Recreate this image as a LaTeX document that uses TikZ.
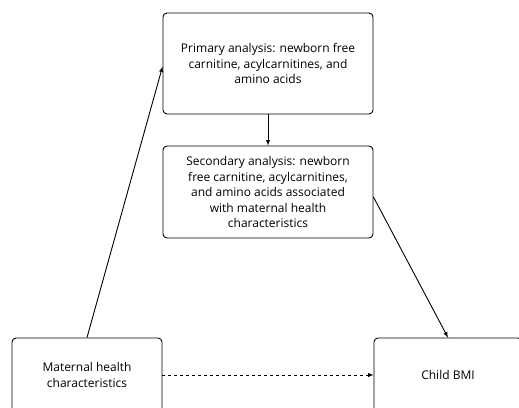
\documentclass[tikz,border=0pt]{standalone}
\usepackage{fontspec}
\setmainfont{Open Sans}
\usetikzlibrary{arrows, calc}

\begin{document}
\begin{tikzpicture}[x=1pt, y=-1pt,
  every node/.style = {shape=rectangle, rounded corners=4pt, draw, line width=0.9pt, align=center,
    inner sep=0pt, font=\fontsize{12}{15.5}\selectfont},
  link/.style = {line width=0.9pt, -latex}]

  \useasboundingbox (0,0) rectangle (519,407);
  \clip (0,0) rectangle (519,407);

  \node (primary) [minimum width=210pt, minimum height=101pt] at (268,63.5)
    {Primary analysis: newborn free\\ carnitine, acylcarnitines, and\\ amino acids};
  \node (secondary) [minimum width=210pt, minimum height=92pt] at (268,192)
    {Secondary analysis: newborn\\ free carnitine, acylcarnitines,\\ and amino acids associated\\ with maternal health\\ characteristics};
  \node (maternal) [minimum width=150pt, minimum height=74pt] at (87,375)
    {Maternal health\\ characteristics};
  \node (child) [minimum width=148pt, minimum height=74pt] at (448,375)
    {Child BMI};

  \draw[link] (maternal.north) -- ($(primary.west)+(0,3)$);
  \draw[link] (primary.south) -- (secondary.north);
  \draw[link] ($(secondary.east)+(0,5)$) -- (child.north);
  \draw[link, dashed] (maternal.east) -- (child.west);
\end{tikzpicture}
\end{document}
